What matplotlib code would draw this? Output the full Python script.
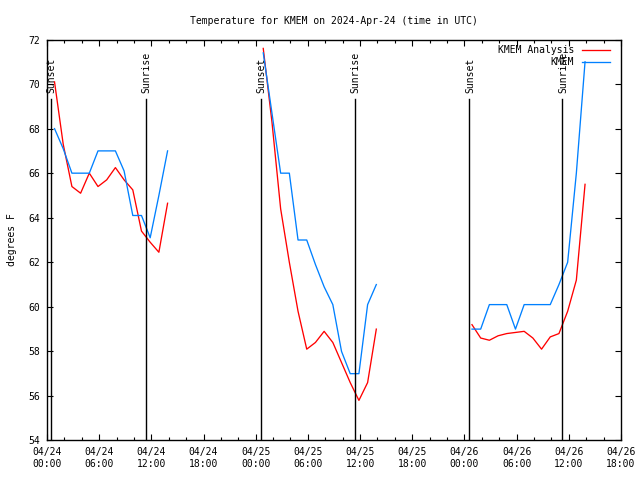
import pandas as pd
import matplotlib
matplotlib.use("Agg")
import matplotlib.pyplot as plt
import matplotlib.dates as mdates
from matplotlib.lines import Line2D

# hourly analysis (red) and observations (blue), three evening/morning windows
start_times = ["2024-04-24 00:52", "2024-04-25 00:52", "2024-04-26 00:52"]

analysis_1 = [70.1, 67.3, 65.4, 65.1, 66.0, 65.4, 65.7, 66.25, 65.7, 65.25, 63.4, 62.9, 62.45, 64.65]
analysis_2 = [71.6, 68.3, 64.4, 62.0, 59.8, 58.1, 58.4, 58.9, 58.4, 57.5, 56.6, 55.8, 56.6, 59.0]
analysis_3 = [59.2, 58.6, 58.5, 58.7, 58.8, 58.85, 58.9, 58.6, 58.1, 58.65, 58.8, 59.8, 61.2, 65.5]

obs_1 = [68.0, 67.1, 66.0, 66.0, 66.0, 67.0, 67.0, 67.0, 66.1, 64.1, 64.1, 63.1, 65.0, 67.0]
obs_2 = [71.4, 68.7, 66.0, 66.0, 63.0, 63.0, 61.9, 60.9, 60.1, 58.0, 57.0, 57.0, 60.1, 61.0]
obs_3 = [59.0, 59.0, 60.1, 60.1, 60.1, 59.0, 60.1, 60.1, 60.1, 60.1, 61.0, 62.0, 66.0, 71.0]

sunset_times = ["2024-04-24 00:28", "2024-04-25 00:34", "2024-04-26 00:33"]
sunrise_times = ["2024-04-24 11:21", "2024-04-25 11:22", "2024-04-26 11:15"]

mono = "DejaVu Sans Mono"
fs = 7

fig = plt.figure(figsize=(6.4, 4.8), dpi=100)
ax = fig.add_axes([0.0734, 0.0823, 0.8969, 0.8354])

red = "#ff0000"
blue = "#0080ff"
for st, a, o in zip(start_times, [analysis_1, analysis_2, analysis_3], [obs_1, obs_2, obs_3]):
    t = pd.date_range(st, periods=len(a), freq="h")
    ax.plot(t, a, color=red, lw=0.95)
    ax.plot(t, o, color=blue, lw=0.95)

trans = ax.get_xaxis_transform()
for label, times in [("Sunset", sunset_times), ("Sunrise", sunrise_times)]:
    for s in times:
        x = mdates.date2num(pd.Timestamp(s))
        ax.plot([x, x], [0, 0.852], color="black", lw=1.0, transform=trans)
        ax.text(x + 0.004, 0.866, label, rotation=90, ha="center", va="bottom",
                transform=trans, fontsize=fs, family=mono)

ax.set_xlim(pd.Timestamp("2024-04-24 00:00"), pd.Timestamp("2024-04-26 18:00"))
ax.set_ylim(54, 72)
ax.set_yticks(range(54, 73, 2))
ax.xaxis.set_major_locator(mdates.HourLocator(byhour=[0, 6, 12, 18]))
ax.xaxis.set_minor_locator(mdates.HourLocator(interval=2))
ax.xaxis.set_major_formatter(mdates.DateFormatter("%m/%d\n%H:%M"))
ax.tick_params(which="both", direction="in", top=True, right=True, labelsize=fs, width=0.8)
ax.tick_params(which="major", length=4.5, pad=5)
ax.tick_params(which="minor", length=2.5)
for lab in ax.get_xticklabels() + ax.get_yticklabels():
    lab.set_family(mono)
for sp in ax.spines.values():
    sp.set_linewidth(1.0)

ax.set_title("Temperature for KMEM on 2024-Apr-24 (time in UTC)", fontsize=fs, family=mono, pad=11.5)
ax.set_ylabel("degrees F", fontsize=fs, family=mono, labelpad=8)

# key in the top right corner, text to the left of the sample line
for yk, name, col in [(0.974, "KMEM Analysis", red), (0.944, "KMEM", blue)]:
    ax.text(0.918, yk, name, ha="right", va="center", transform=ax.transAxes,
            fontsize=fs, family=mono)
    ax.add_line(Line2D([0.932, 0.981], [yk, yk], color=col, lw=0.95, transform=ax.transAxes))

fig.savefig("out.png", dpi=100)
